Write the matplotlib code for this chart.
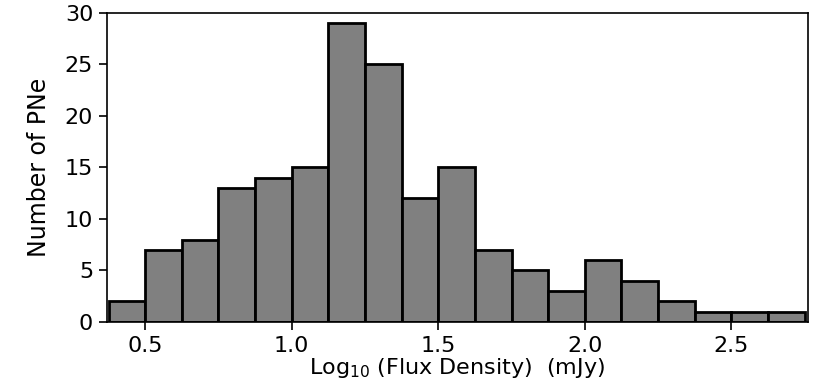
import numpy as np
import matplotlib
matplotlib.use('Agg')
import matplotlib.pyplot as plt

# histogram of log10 flux density, bins of 0.125 dex
bin_edges = np.arange(0.375, 2.75 + 0.0625, 0.125)
counts = [2, 7, 8, 13, 14, 15, 29, 25, 12, 15, 7, 5, 3, 6, 4, 2, 1, 1, 1]
xticks = [0.5, 1.0, 1.5, 2.0, 2.5]
yticks = [0, 5, 10, 15, 20, 25, 30]

fig = plt.figure(figsize=(8.3, 3.81), dpi=100)
ax = fig.add_axes([0.129, 0.155, 0.844, 0.811])

ax.bar(bin_edges[:-1], counts, width=np.diff(bin_edges), align='edge',
       color='#808080', edgecolor='black', linewidth=2)

ax.set_xlim(0.37, 2.76)
ax.set_ylim(0, 30)
ax.set_xticks(xticks)
ax.set_yticks(yticks)
ax.tick_params(labelsize=16, length=6, width=1.2, pad=4)
for s in ax.spines.values():
    s.set_linewidth(1.2)

ax.set_xlabel('Log$_{10}$ (Flux Density)  (mJy)', fontsize=16, labelpad=0)
ax.set_ylabel('Number of PNe', fontsize=17, labelpad=10)

fig.savefig('out.png', dpi=100)
